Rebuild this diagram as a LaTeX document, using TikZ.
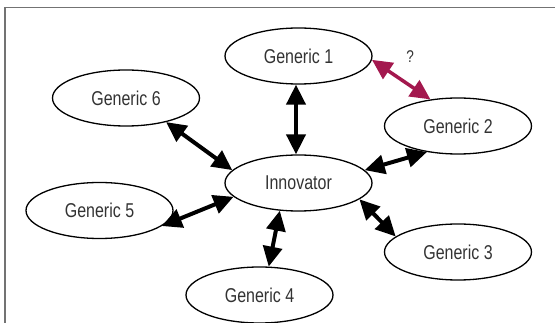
\documentclass[tikz,border=0pt]{standalone}
\usepackage{fontspec}
\setmainfont{Liberation Sans}[FakeStretch=0.8]
\usetikzlibrary{arrows.meta,shapes.geometric,positioning}

\begin{document}
\begin{tikzpicture}
[x=1pt,y=-1pt,line cap=butt,
% Styles
partner/.style={ellipse,draw,line width=1.3pt,minimum width=147pt,minimum height=56pt,
  inner sep=0pt,font=\fontsize{20}{22}\selectfont,text=textcolor},
link/.style={line width=4pt,{Triangle[length=20pt,width=19pt]}-{Triangle[length=20pt,width=19pt]}},
open link/.style={link,linkcolor,line width=3.5pt},
query text/.style={font=\fontsize{17}{18}\selectfont,text=textcolor}]
% Colors
\colorlet{textcolor}{black!80}
\colorlet{framecolor}{black!55}
\definecolor{linkcolor}{HTML}{A3184E}
\useasboundingbox (0,0) rectangle (555,323);
% Frame
\draw[framecolor,line width=1.5pt] (555,7.5) -- (5,7.5) -- (5,323);
% The partners
\node[partner] (inn) at (298.5,183) {Innovator};
\node[partner] (g1) at (298.5,56) {Generic 1};
\node[partner] (g2) at (458,126) {Generic 2};
\node[partner] (g3) at (458,252) {Generic 3};
\node[partner] (g4) at (259.5,295) {Generic 4};
\node[partner] (g5) at (99.5,210.5) {Generic 5};
\node[partner] (g6) at (126,98) {Generic 6};
% The links
\draw[link] (g1.-95) -- (inn.95);
\draw[link] (inn.11) -- (g2.-140);
\draw[link] (inn.-15) -- (g3.166);
\draw[link] (inn.-124) -- (g4.72);
\draw[link] (inn.-168) -- (g5.-14);
\draw[link] (inn.169) -- (g6.-31);
\draw[open link] (g1.-3) -- node[query text,above right=12pt and 0pt] (q) {?} (g2.136);
\end{tikzpicture}
\end{document}
